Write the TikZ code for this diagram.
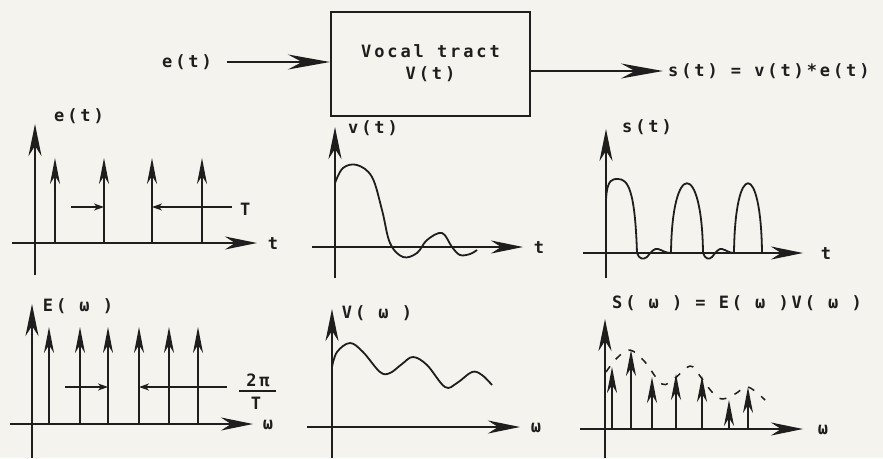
\documentclass[tikz,border=0pt]{standalone}
\usepackage{fontspec}
\usetikzlibrary{arrows.meta}
\newfontfamily\lab{DejaVu Sans Mono}[LetterSpace=17]
\definecolor{inkc}{HTML}{1E1E1E}
\definecolor{paper}{HTML}{F5F3EE}
\tikzset{
  ink/.style={draw=inkc, line width=2pt},
  bigtip/.style={-{Stealth[length=42pt,width=15pt,inset=14pt]}},
  axtip/.style={-{Stealth[length=32pt,width=13pt,inset=10pt]}},
  imptip/.style={-{Stealth[length=26pt,width=10pt,inset=8pt]}},
  smalltip/.style={-{Stealth[length=10pt,width=7pt,inset=3pt]}},
  lbl/.style={inner sep=0pt, font=\lab\bfseries\fontsize{17pt}{20pt}\selectfont, text=inkc},
  blk/.style={draw=inkc, line width=2pt, minimum width=199pt, minimum height=104pt, inner sep=0pt, align=center, font=\lab\bfseries\fontsize{17pt}{22pt}\selectfont, text=inkc},
  curve/.style={draw=inkc, line width=1.8pt, line join=round},
}
\begin{document}
\begin{tikzpicture}[x=1pt, y=-1pt]
\useasboundingbox (0,0) rectangle (883,458);
\fill[paper] (0,0) rectangle (883,458);

% ---------- top block diagram ----------
\node[lbl] (et) at (187,62) {e(t)};
\node[blk] (box) at (430.5,63.5) {Vocal tract\\V(t)};
\node[lbl, anchor=west] (st) at (668,71) {s(t) = v(t)*e(t)};
\draw[ink, bigtip, shorten <=15pt] (et.east) -- (box.west |- et.east);
\draw[ink, bigtip, shorten >=5pt] (box.east |- st.west) -- (st.west);

% ---------- panel e(t) ----------
\draw[ink, axtip] (35,275) -- (35,124);
\draw[ink, axtip] (12,243) -- (257,243);
\node[lbl] (lab1) at (79,116) {e(t)};
\node[lbl] (ax1) at (273,244) {t};
\foreach \x in {55,104,152,202} \draw[ink, imptip] (\x,243) -- (\x,158);
\draw[ink, line width=1.5pt, smalltip] (71,207) -- (104,207);
\draw[ink, line width=1.5pt, smalltip] (232,207) -- (152,207);
\node[lbl, anchor=west] (Tlab) at (240,209) {T};

% ---------- panel v(t) ----------
\draw[ink, axtip] (335,278) -- (335,127);
\draw[ink, axtip] (312,247) -- (523,247);
\node[lbl] (lab2) at (373,128) {v(t)};
\node[lbl] (ax2) at (539,248) {t};
\draw[curve] plot[smooth, tension=0.6] coordinates {(335,183) (343,168) (357,165) (372,177) (382,210) (390,243) (403,257) (417,253) (427,240) (442,233) (452,247) (460,255) (470,254) (477,250)};

% ---------- panel s(t) ----------
\draw[ink, axtip] (606,278) -- (606,129);
\draw[ink, axtip] (583,253) -- (803,253);
\node[lbl] (lab3) at (647,127) {s(t)};
\node[lbl] (ax3) at (826,254) {t};
\draw[curve] (606,200) .. controls (607,178) and (613,179) .. (618,179)
  .. controls (628,179) and (635,190) .. (637,253)
  .. controls (639,259) and (643,260) .. (647,257)
  .. controls (651,252) and (654,248) .. (658,249)
  .. controls (662,250) and (665,253) .. (671,253)
  .. controls (672,160) and (702,160) .. (703,253)
  .. controls (705,259) and (709,260) .. (712,257)
  .. controls (716,252) and (719,248) .. (722,249)
  .. controls (726,250) and (729,253) .. (734,253)
  .. controls (735,160) and (761,160) .. (762,253);

% ---------- panel E(w) ----------
\draw[ink, axtip] (32,458) -- (32,304);
\draw[ink, axtip] (10,424) -- (253,424);
\node[lbl] (lab4) at (78,306) {E( ω )};
\node[lbl] (ax4) at (268,425) {ω};
\foreach \x in {49,80,108,139,169,198} \draw[ink, imptip] (\x,424) -- (\x,327);
\draw[ink, line width=1.5pt, smalltip] (65,387) -- (108,387);
\draw[ink, line width=1.5pt, smalltip] (227,387) -- (139,387);
\node[lbl] (twopi) at (258,380) {2π};
\node[lbl] (Tden) at (256,403) {T};
\draw[ink, line width=1.6pt] (239,391) -- (276,391);

% ---------- panel V(w) ----------
\draw[ink, axtip] (332,458) -- (332,309);
\draw[ink, axtip] (307,427) -- (520,427);
\node[lbl] (lab5) at (377,313) {V( ω )};
\node[lbl] (ax5) at (536,428) {ω};
\draw[curve] plot[smooth, tension=0.6] coordinates {(332,367) (337,352) (350,343) (363,352) (380,372) (390,373) (402,364) (413,357) (427,365) (445,387) (457,383) (472,372) (482,375) (492,385)};

% ---------- panel S(w) ----------
\draw[ink, axtip] (605,458) -- (605,319);
\draw[ink, axtip] (580,429) -- (803,429);
\node[lbl, anchor=west] (lab6) at (612,303) {S( ω ) = E( ω )V( ω )};
\node[lbl] (ax6) at (823,430) {ω};
\draw[curve, line width=1.5pt, dash pattern=on 7pt off 9pt] plot[smooth, tension=0.6] coordinates {(606,372) (617,358) (630,350) (645,362) (662,384) (675,378) (690,366) (700,376) (712,392) (722,399) (735,394) (748,387) (765,400)};
\foreach \x/\y in {612/367, 631/350, 652/377, 676/374, 702/376, 729/400, 748/387}
  \draw[ink, imptip] (\x,429) -- (\x,\y);
\end{tikzpicture}
\end{document}
